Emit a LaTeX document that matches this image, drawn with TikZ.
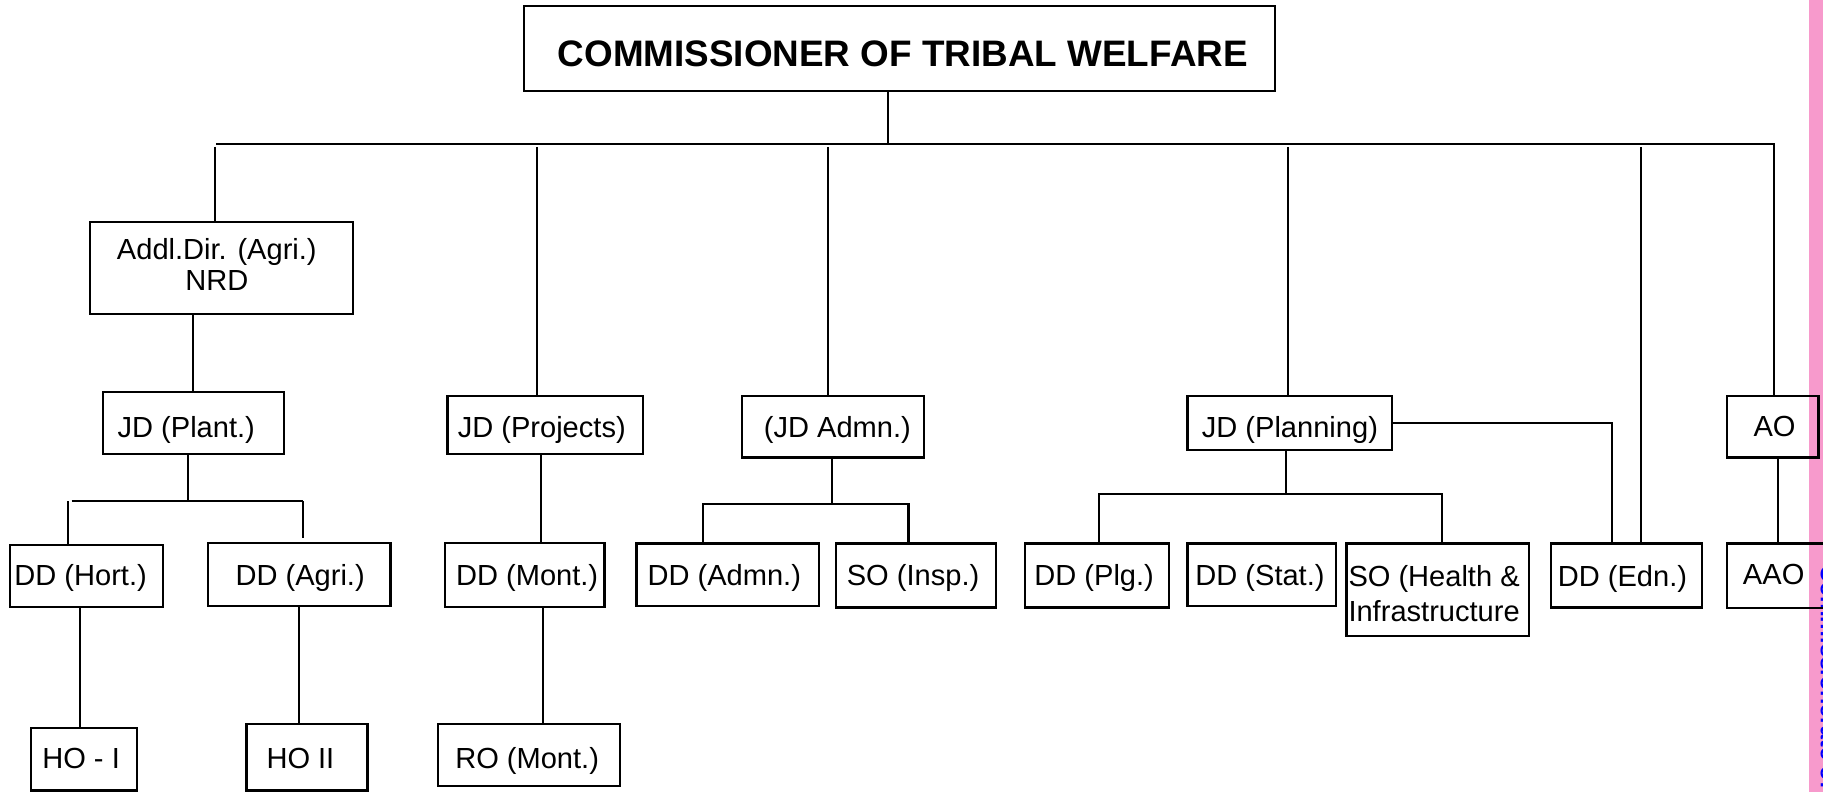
\documentclass[tikz,border=0pt]{standalone}
\usepackage{fontspec}
\setmainfont{Liberation Sans}
\definecolor{pinkstrip}{RGB}{247,154,204}
\definecolor{sideblue}{RGB}{0,0,255}
\newcommand{\txs}[2]{\hspace*{#1}#2\hspace*{-#1}}
\begin{document}
\begin{tikzpicture}[x=1pt,y=-1pt,
  box/.style={draw, line width=2pt, inner sep=0pt, font=\fontsize{25}{30}\selectfont, text height=19pt, text depth=0pt},
  conn/.style={line width=1.8pt}]
\useasboundingbox (0,0) rectangle (1568,681.2);
\fill[pinkstrip] (1555.7,0) rectangle (1568,681.2);
\node[anchor=north west, inner sep=0pt, font=\bfseries\fontsize{20}{24}\selectfont] (side) at (1565.8,486) {\rotatebox{-90}{\textcolor{sideblue}{Commissionerate of Tribal Welfare}}};

% top
\node[box, minimum width=646pt, minimum height=73pt, font=\bfseries\fontsize{31.7}{36}\selectfont, text height=31.6pt] (title) at (773.5,41.5) {\txs{3pt}{COMMISSIONER OF TRIBAL WELFARE}};

% row 1
\node[box, minimum width=226pt, minimum height=79pt, font=\fontsize{25}{26.4}\selectfont, text height=39pt] (addl) at (190.5,230.5) {\txs{-4pt}{\begin{tabular}[b]{@{}c@{}}Addl.Dir. (Agri.)\\NRD\end{tabular}}};
\node[box, minimum width=156pt, minimum height=53.5pt, text height=24.7pt] (plant) at (166.5,363.75) {\txs{-6.3pt}{JD (Plant.)}};
\node[box, minimum width=168pt, minimum height=50pt, text height=21.2pt] (proj) at (469,365.5) {\txs{-3pt}{JD (Projects)}};
\node[box, minimum width=156.5pt, minimum height=53pt, text height=18.2pt] (admn) at (716.25,367) {\txs{4pt}{(JD Admn.)}};
\node[box, minimum width=176pt, minimum height=46.5pt, text height=24.7pt] (plan) at (1109.5,363.75) {JD (Planning)};
\node[box, minimum width=78.5pt, minimum height=53pt, text height=17pt] (ao) at (1524.75,367) {\txs{1.6pt}{AO}};

% row 2
\node[box, minimum width=131.5pt, minimum height=53pt, text height=17pt] (hort) at (74.25,495.5) {\txs{-4.9pt}{DD (Hort.)}};
\node[box, minimum width=157pt, minimum height=54pt, text height=20pt] (agri) at (257.5,494) {\txs{0.7pt}{DD (Agri.)}};
\node[box, minimum width=137pt, minimum height=55pt] (mont) at (451.5,494.5) {\txs{1.9pt}{DD (Mont.)}};
\node[box, minimum width=157pt, minimum height=53.5pt, text height=18.9pt] (dadmn) at (626,494.25) {\txs{-3pt}{DD (Admn.)}};
\node[box, minimum width=137.5pt, minimum height=55pt, text height=17.4pt] (insp) at (787.75,495) {\txs{-2.4pt}{SO (Insp.)}};
\node[box, minimum width=124pt, minimum height=55pt, text height=17.4pt] (plg) at (943.5,495) {\txs{-2.4pt}{DD (Plg.)}};
\node[box, minimum width=127.5pt, minimum height=53.5pt, text height=18.9pt] (stat) at (1085.25,494.25) {\txs{-1.5pt}{DD (Stat.)}};
\node[box, minimum width=157pt, minimum height=79.5pt, font=\fontsize{25}{30}\selectfont, text height=54.5pt] (health) at (1236.5,507.25) {\txs{-3pt}{\begin{tabular}[b]{@{}l@{}}SO (Health \&\\Infrastructure\end{tabular}}};
\node[box, minimum width=130pt, minimum height=55pt] (edn) at (1399,495) {\txs{-3.5pt}{DD (Edn.)}};
\node[box, minimum width=89.5pt, minimum height=55.5pt, text height=15.7pt] (aao) at (1530.25,495.25) {\txs{-4.7pt}{AAO}};

% row 3
\node[box, minimum width=91.5pt, minimum height=54pt, text height=16.8pt] (ho1) at (72.25,653) {\txs{-2.5pt}{HO - I}};
\node[box, minimum width=104pt, minimum height=57pt, text height=19.8pt] (ho2) at (264,651.5) {\txs{-5.6pt}{HO II}};
\node[box, minimum width=156pt, minimum height=53pt, text height=23.8pt] (ro) at (455,649.5) {\txs{-1.6pt}{RO (Mont.)}};

% main bus
\coordinate (tb) at (764,124.5);
\coordinate (busL) at (186,123.5);
\coordinate (busR) at (1525.5,123.5);
\draw[conn] (tb |- title.south) -- (tb);
\draw[conn] (busL) -- (busR) -- (busR |- ao.north);
\coordinate (d1) at (184.6,126.3);
\coordinate (d2) at (462,126.3);
\coordinate (d3) at (712.5,126.3);
\coordinate (d4) at (1108,126.3);
\coordinate (d5) at (1411.5,126.3);
\draw[conn] (d1) -- (d1 |- addl.north);
\draw[conn] (d2) -- (d2 |- proj.north);
\draw[conn] (d3) -- (d3 |- admn.north);
\draw[conn] (d4) -- (d4 |- plan.north);
\draw[conn] (d5) -- (d5 |- edn.north);

% agriculture branch
\coordinate (ap) at (166,0);
\draw[conn] (ap |- addl.south) -- (ap |- plant.north);
\coordinate (p2L) at (58.5,431);
\coordinate (p2R) at (261,431);
\coordinate (p2m) at (162,431);
\draw[conn] (p2m |- plant.south) -- (p2m);
\draw[conn] ([xshift=3pt]p2L) -- (p2R);
\draw[conn] (p2L) -- (p2L |- hort.north);
\draw[conn] (p2R) -- ([yshift=3pt]p2R |- agri.north);
\coordinate (h1) at (69,0);
\draw[conn] (h1 |- hort.south) -- (h1 |- ho1.north);
\coordinate (h2) at (257.4,0);
\draw[conn] (h2 |- agri.south) -- (h2 |- ho2.north);

% projects branch
\coordinate (pm) at (465,0);
\draw[conn] (pm |- proj.south) -- (pm |- mont.north);
\coordinate (mr) at (467,0);
\draw[conn] (mr |- mont.south) -- (mr |- ro.north);

% admin branch
\coordinate (a3L) at (604.6,433.7);
\coordinate (a3R) at (781.4,433.7);
\coordinate (a3m) at (716,433.7);
\draw[conn] (a3m |- admn.south) -- (a3m);
\draw[conn] (a3L |- dadmn.north) -- (a3L) -- (a3R) -- (a3R |- insp.north);

% planning branch
\coordinate (p4L) at (945.5,425);
\coordinate (p4R) at (1240,425);
\coordinate (p4m) at (1106,425);
\draw[conn] (p4m |- plan.south) -- (p4m);
\draw[conn] (p4L |- plg.north) -- (p4L) -- (p4R) -- (p4R |- health.north);
\coordinate (pe) at (1386.5,363.75);
\draw[conn] (plan.east) -- (pe) -- (pe |- edn.north);

% AO branch
\coordinate (aa) at (1529,0);
\draw[conn] (aa |- ao.south) -- (aa |- aao.north);
\end{tikzpicture}
\end{document}
